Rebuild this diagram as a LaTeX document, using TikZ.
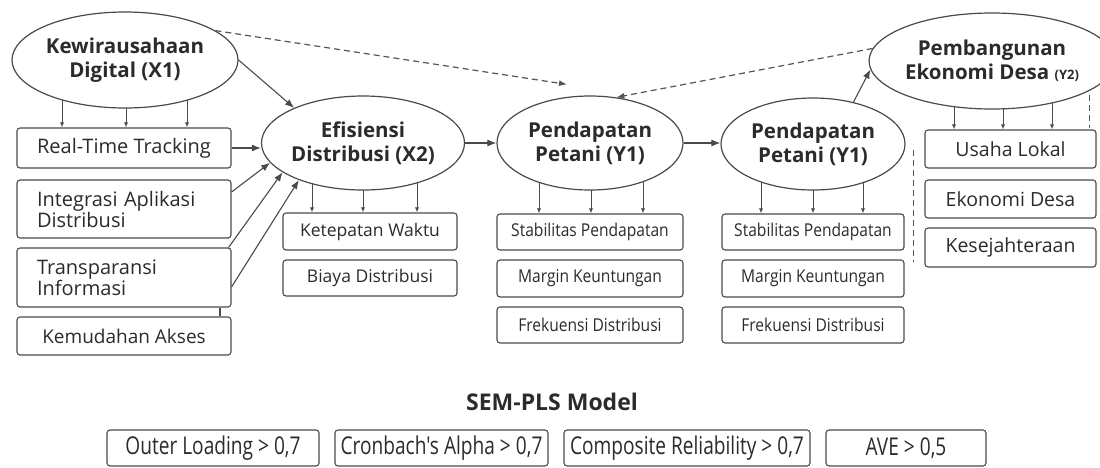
\documentclass[tikz,border=0pt]{standalone}
\usepackage{fontspec}
\setmainfont{Open Sans}
\newfontfamily\narrowfont{Open Sans}[FakeStretch=0.88]
\newfontfamily\condfont{Open Sans}[FakeStretch=0.78]
\usetikzlibrary{shapes.geometric,arrows.meta,calc,backgrounds}
\definecolor{ink}{HTML}{2B2B2B}
\definecolor{edge}{HTML}{4A4A4A}
\definecolor{dash}{HTML}{555555}
\begin{document}
\begin{tikzpicture}[x=1pt,y=-1pt,
  lat/.style={ellipse,draw=edge,line width=1.2pt,fill=white,inner sep=0pt,
    font=\bfseries\fontsize{20.5}{24}\selectfont,text=ink,align=center},
  ibox/.style={draw=edge,line width=1.1pt,rounded corners=3pt,fill=white,inner sep=0pt,
    font=\fontsize{19.5}{21}\selectfont,text=ink,align=center},
  mbox/.style={ibox,font=\fontsize{17.5}{20}\selectfont},
  nbox/.style={ibox,font=\narrowfont\fontsize{17.7}{20}\selectfont},
  lbox/.style={ibox,align=left,text width=174pt},
  cbox/.style={ibox,font=\condfont\fontsize{24.5}{27}\selectfont},
  main/.style={draw=edge,line width=1.1pt,-{Latex[length=9pt,width=7pt]}},
  indarr/.style={draw=edge,line width=0.9pt,-{Latex[length=5pt,width=4pt]}},
  dashline/.style={draw=dash,line width=1.2pt,dash pattern=on 6pt off 4pt},
  dasharr/.style={dashline,-{Latex[length=8pt,width=6pt]}}
]
\useasboundingbox (0,0) rectangle (1100,467);

% latent variables
\node[lat,minimum width=226,minimum height=96] (X1) at (125,60) {Kewirausahaan\\Digital (X1)};
\node[lat,minimum width=194,minimum height=94] (X2) at (363,143) {Efisiensi\\Distribusi (X2)};
\node[lat,minimum width=186,minimum height=94] (Y1a) at (590,143) {Pendapatan\\Petani (Y1)};
\node[lat,minimum width=184,minimum height=92] (Y1b) at (813,144) {Pendapatan\\Petani (Y1)};
\node[lat,minimum width=218,minimum height=96] (Y2) at (992,61) {Pembangunan\\Ekonomi Desa {\fontsize{13}{14}\selectfont (Y2)}};

% X1 indicators
\node[ibox,font=\fontsize{20}{22}\selectfont,minimum width=214,minimum height=40] (rtt) at (124,148) {Real-Time Tracking};
\node[lbox,minimum width=214,minimum height=58] (int) at (124,209) {\fontsize{20}{22.5}\selectfont Integrasi Aplikasi\\Distribusi};
\node[lbox,minimum width=214,minimum height=59] (tra) at (124,277.5) {\fontsize{20}{22.5}\selectfont Transparansi\\Informasi};
\node[ibox,font=\fontsize{19}{21}\selectfont,minimum width=214,minimum height=38] (kem) at (124,336) {Kemudahan Akses};

% X2 indicators
\node[mbox,minimum width=174,minimum height=37] (ket) at (370,231.5) {Ketepatan Waktu};
\node[mbox,minimum width=174,minimum height=36] (bia) at (370,278) {Biaya Distribusi};

% Y1a indicators
\node[nbox,minimum width=186,minimum height=36] (stA) at (590,232) {Stabilitas Pendapatan};
\node[nbox,minimum width=186,minimum height=37] (marA) at (590,278.5) {Margin Keuntungan};
\node[nbox,minimum width=186,minimum height=36] (freA) at (590,325) {Frekuensi Distribusi};

% Y1b indicators
\node[nbox,minimum width=182,minimum height=36] (stB) at (813,232) {Stabilitas Pendapatan};
\node[nbox,minimum width=182,minimum height=37] (marB) at (813,278.5) {Margin Keuntungan};
\node[nbox,minimum width=182,minimum height=36] (freB) at (813,325) {Frekuensi Distribusi};

% Y2 indicators
\node[ibox,minimum width=171,minimum height=38] (usa) at (1010.5,149) {Usaha Lokal};
\node[ibox,minimum width=171,minimum height=38] (eko) at (1010.5,199) {Ekonomi Desa};
\node[ibox,minimum width=171,minimum height=39] (kes) at (1010.5,247.5) {Kesejahteraan};

% bottom
\node[font=\bfseries\fontsize{23}{26}\selectfont,text=ink] (title) at (552,402) {SEM-PLS Model};
\node[cbox,minimum width=212,minimum height=36] (b1) at (213,448) {Outer Loading > 0,7};
\node[cbox,minimum width=213,minimum height=36] (b2) at (441.5,448) {Cronbach's Alpha > 0,7};
\node[cbox,minimum width=246,minimum height=36] (b3) at (687,448) {Composite Reliability > 0,7};
\node[cbox,minimum width=160,minimum height=36] (b4) at (906,448) {AVE > 0,5};

% indicator arrows (behind the ellipses)
\begin{scope}[on background layer]
\foreach \dx in {-63,1,62}{\draw[indarr] ([xshift=\dx pt]X1.center) -- ([xshift=\dx pt]X1.center |- rtt.north);}
\foreach \dx in {-51,0,54}{\draw[indarr] ([xshift=\dx pt]X2.center) -- ([xshift=\dx pt]X2.center |- ket.north);}
\foreach \dx in {-51,1,53}{\draw[indarr] ([xshift=\dx pt]Y1a.center) -- ([xshift=\dx pt]Y1a.center |- stA.north);}
\foreach \dx in {-52,0,50}{\draw[indarr] ([xshift=\dx pt]Y1b.center) -- ([xshift=\dx pt]Y1b.center |- stB.north);}
\foreach \dx in {-38,11,60}{\draw[indarr] ([xshift=\dx pt]Y2.center) -- ([xshift=\dx pt]Y2.center |- usa.north);}
\end{scope}

% structural arrows
\draw[main] (X1.east) -- (X2.153);
\draw[main] (rtt.east) -- (rtt.east -| X2.west);
\draw[main] ([yshift=17pt]int.east) -- (X2.192);
\draw[main] ([xshift=-3pt]tra.north east) -- (X2.200);
\draw[main] ([yshift=-9.5pt]tra.east) -- (X2.210);
\draw[edge,line width=1.1pt] ([xshift=96pt]tra.south) -- ([xshift=96pt]kem.north);
\draw[main] (X2.east) -- (Y1a.west);
\draw[main] (Y1a.east) -- (Y1a.east -| Y1b.west);
\draw[main] (Y1b.46) -- (Y2.184);

% dashed paths
\draw[dasharr] (X1.18) -- ($(Y1a.north)+(-23,-11)$);
\draw[dasharr] (Y2.174) -- (Y1a.60);
\coordinate (dv1t) at (913,150);
\coordinate (dv1b) at (913,262);
\draw[dashline,line width=1pt] (dv1t) -- (dv1b);
\coordinate (dv2t) at (1089,95);
\coordinate (dv2b) at (1089,128);
\draw[dashline,line width=1pt] (dv2t) -- (dv2b);
\end{tikzpicture}
\end{document}
